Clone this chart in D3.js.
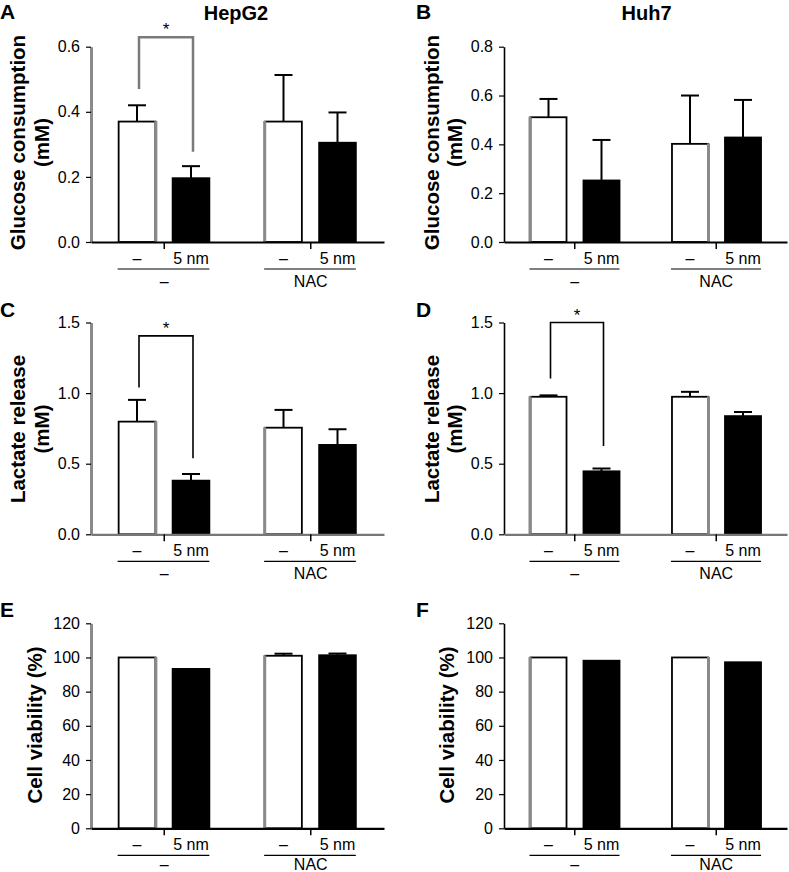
<!DOCTYPE html>
<html>
<head>
<meta charset="utf-8">
<script src="https://cdn.jsdelivr.net/npm/d3@7"></script>
<style>
  html, body { margin: 0; padding: 0; background: #fff; }
  svg { display: block; }
  text { font-family: "Liberation Sans", Arial, sans-serif; fill: #000; }
</style>
</head>
<body>
<svg id="chart" width="789" height="872"></svg>
<script>
// ---------------- DATA ----------------
const conditions = ["–", "5 nm"];
const groups = ["–", "NAC"];

const glucoseHepG2 = [0.37, 0.196, 0.37, 0.305];
const glucoseHepG2Sd = [0.05, 0.037, 0.143, 0.093];
const glucoseHuh7 = [0.511, 0.252, 0.402, 0.428];
const glucoseHuh7Sd = [0.075, 0.166, 0.198, 0.154];
const lactateHepG2 = [0.798, 0.38, 0.755, 0.633];
const lactateHepG2Sd = [0.154, 0.047, 0.126, 0.111];
const lactateHuh7 = [0.974, 0.446, 0.974, 0.837];
const lactateHuh7Sd = [0.01, 0.02, 0.035, 0.029];
const viabilityHepG2 = [100, 93.3, 101, 101.3];
const viabilityHepG2Sd = [0, 0, 1.2, 1.0];
const viabilityHuh7 = [100, 98.1, 100, 97.2];
const viabilityHuh7Sd = [0, 0, 0, 0];

const ticksGlucoseHepG2 = [0, 0.2, 0.4, 0.6];
const ticksGlucoseHuh7 = [0, 0.2, 0.4, 0.6, 0.8];
const ticksLactate = [0, 0.5, 1.0, 1.5];
const ticksViability = [0, 20, 40, 60, 80, 100, 120];

const titles = ["HepG2", "Huh7"];
const panelLetters = ["A", "B", "C", "D", "E", "F"];
const yLabelsGlucose = ["Glucose consumption", "(mM)"];
const yLabelsLactate = ["Lactate release", "(mM)"];
const yLabelsViability = ["Cell viability (%)"];

// significance brackets: [left end value, top value, right end value]
const sigA = [0.47, 0.629, 0.277];
const sigC = [1.04, 1.405, 0.539];
const sigD = [1.104, 1.5, 0.625];

// ---------------- LAYOUT ----------------
const svg = d3.select("#chart");
const font = '"Liberation Sans", Arial, sans-serif';

const columns = [
  { axisX: 91, end: 384, inner: [19, 127], letterX: 0, titleX: 236,
    yLab1X: 17.5, yLab2X: 42, yLabSingleX: 34.5, yAxisColor: "#8a8a8a", yAxisW: 3,
    greySide: ["right", "left"] },
  { axisX: 504, end: 787, inner: [18, 124], letterX: 416, titleX: 646.5,
    yLab1X: 432, yLab2X: 455, yLabSingleX: 446.5, yAxisColor: "#000", yAxisW: 1.6,
    greySide: ["left", "right"] }
];
const rows = [
  { top: 46.7, bottom: 242, letterY: 19, labCenter: 142.5, grpOff: 45 },
  { top: 322.5, bottom: 534.3, letterY: 317, labCenter: 429, grpOff: 45 },
  { top: 623.3, bottom: 828.3, letterY: 617, labCenter: 725, grpOff: 42 }
];

const panels = [
  { row: 0, col: 0, values: glucoseHepG2, sd: glucoseHepG2Sd, ticks: ticksGlucoseHepG2, fmt: d3.format(".1f"), ylab: yLabelsGlucose, sig: sigA, sigColor: "#7a7a7a", sigW: 2.5, xAxisColor: "#000" },
  { row: 0, col: 1, values: glucoseHuh7, sd: glucoseHuh7Sd, ticks: ticksGlucoseHuh7, fmt: d3.format(".1f"), ylab: yLabelsGlucose, sig: null, xAxisColor: "#000" },
  { row: 1, col: 0, values: lactateHepG2, sd: lactateHepG2Sd, ticks: ticksLactate, fmt: d3.format(".1f"), ylab: yLabelsLactate, sig: sigC, sigColor: "#000", sigW: 1.6, xAxisColor: "#777" },
  { row: 1, col: 1, values: lactateHuh7, sd: lactateHuh7Sd, ticks: ticksLactate, fmt: d3.format(".1f"), ylab: yLabelsLactate, sig: sigD, sigColor: "#000", sigW: 1.6, xAxisColor: "#777" },
  { row: 2, col: 0, values: viabilityHepG2, sd: viabilityHepG2Sd, ticks: ticksViability, fmt: d3.format("d"), ylab: yLabelsViability, sig: null, xAxisColor: "#000" },
  { row: 2, col: 1, values: viabilityHuh7, sd: viabilityHuh7Sd, ticks: ticksViability, fmt: d3.format("d"), ylab: yLabelsViability, sig: null, xAxisColor: "#000" }
];

panels.forEach((p, i) => {
  const c = columns[p.col], r = rows[p.row];
  const g = svg.append("g");

  const y = d3.scaleLinear()
    .domain([0, d3.max(p.ticks)])
    .range([r.bottom, r.top]);
  const xg = d3.scaleBand().domain(groups).range([c.axisX, c.end]).padding(0);
  const xi = d3.scaleBand().domain(conditions).range(c.inner)
    .paddingInner(0.32).paddingOuter(0.16);

  const data = [];
  groups.forEach((grp, gi) => conditions.forEach((cond, ci) => {
    const k = gi * conditions.length + ci;
    data.push({ grp, gi, cond, ci, v: p.values[k], sd: p.sd[k] });
  }));
  const bx = d => xg(d.grp) + xi(d.cond);
  const bcx = d => bx(d) + xi.bandwidth() / 2;

  // error bars (upper only)
  const eb = g.selectAll(".eb").data(data.filter(d => d.sd > 0)).enter().append("g");
  eb.append("line")
    .attr("x1", bcx).attr("x2", bcx)
    .attr("y1", d => y(d.v)).attr("y2", d => y(d.v + d.sd))
    .attr("stroke", "#000").attr("stroke-width", 2);
  eb.append("line")
    .attr("x1", d => bcx(d) - 9).attr("x2", d => bcx(d) + 9)
    .attr("y1", d => y(d.v + d.sd)).attr("y2", d => y(d.v + d.sd))
    .attr("stroke", "#000").attr("stroke-width", 2);

  // bars
  g.selectAll(".bar").data(data).enter().append("rect")
    .attr("x", bx)
    .attr("y", d => y(d.v))
    .attr("width", xi.bandwidth())
    .attr("height", d => y(0) - y(d.v))
    .attr("fill", d => d.ci === 0 ? "#fff" : "#000")
    .attr("stroke", "#000")
    .attr("stroke-width", 1.8);

  // greyish soft edge on white bars (as in the scanned original)
  g.selectAll(".edge").data(data.filter(d => d.ci === 0)).enter().append("line")
    .attr("x1", d => c.greySide[d.gi] === "right" ? bx(d) + xi.bandwidth() + 0.5 : bx(d) - 0.5)
    .attr("x2", d => c.greySide[d.gi] === "right" ? bx(d) + xi.bandwidth() + 0.5 : bx(d) - 0.5)
    .attr("y1", d => y(d.v) - 0.5).attr("y2", y(0))
    .attr("stroke", "#8a8a8a").attr("stroke-width", 3);

  // y axis
  const ya = g.append("g").attr("transform", `translate(${c.axisX},0)`)
    .call(d3.axisLeft(y).tickValues(p.ticks).tickFormat(p.fmt).tickSize(5).tickSizeOuter(0).tickPadding(6));
  ya.select(".domain").attr("stroke", c.yAxisColor).attr("stroke-width", c.yAxisW);
  ya.selectAll(".tick line").attr("stroke", "#000").attr("stroke-width", 1.2);
  ya.selectAll(".tick text").attr("font-size", 16).attr("font-family", font).attr("fill", "#000");

  // x axis
  const xa = g.append("g").attr("transform", `translate(0,${r.bottom})`)
    .call(d3.axisBottom(xg).tickSize(7).tickSizeOuter(0).tickFormat(""));
  xa.select(".domain").attr("stroke", p.xAxisColor).attr("stroke-width", 2.2);
  xa.selectAll(".tick line").attr("stroke", "#000").attr("stroke-width", 1.5);

  // x labels
  g.selectAll(".clab").data(data).enter().append("text")
    .attr("x", bcx).attr("y", r.bottom + 22)
    .attr("text-anchor", "middle").attr("font-size", 16)
    .text(d => d.cond);
  groups.forEach(grp => {
    const x0 = xg(grp) + xi(conditions[0]) - 1;
    const x1 = xg(grp) + xi(conditions[conditions.length - 1]) + xi.bandwidth();
    g.append("line").attr("x1", x0).attr("x2", x1)
      .attr("y1", r.bottom + 27).attr("y2", r.bottom + 27)
      .attr("stroke", "#000").attr("stroke-width", 1.2);
    g.append("text").attr("x", xg(grp) + xg.bandwidth() / 2).attr("y", r.bottom + r.grpOff)
      .attr("text-anchor", "middle").attr("font-size", 16).text(grp);
  });

  // significance bracket
  if (p.sig) {
    const xl = bcx(data[0]) + 2, xr = bcx(data[1]) + 2;
    g.append("path")
      .attr("d", `M${xl},${y(p.sig[0])}V${y(p.sig[1])}H${xr}V${y(p.sig[2])}`)
      .attr("fill", "none").attr("stroke", p.sigColor).attr("stroke-width", p.sigW);
    g.append("text").attr("x", (xl + xr) / 2).attr("y", y(p.sig[1]) - 2)
      .attr("text-anchor", "middle").attr("font-size", 17).text("*");
  }

  // y label
  const labX = p.ylab.length === 2 ? [c.yLab1X, c.yLab2X] : [c.yLabSingleX];
  labX.forEach((lx, li) => {
    g.append("text")
      .attr("transform", `translate(${lx},${r.labCenter}) rotate(-90)`)
      .attr("text-anchor", "middle").attr("dy", "0.35em")
      .attr("font-size", 20.5).attr("font-weight", "bold")
      .text(p.ylab[li]);
  });

  // panel letter
  g.append("text").attr("x", c.letterX).attr("y", r.letterY)
    .attr("font-size", 21).attr("font-weight", "bold").text(panelLetters[i]);

  // titles
  if (p.row === 0) {
    g.append("text").attr("x", c.titleX).attr("y", 19.5)
      .attr("text-anchor", "middle").attr("font-size", 20).attr("font-weight", "bold")
      .text(titles[p.col]);
  }
});
</script>
</body>
</html>
